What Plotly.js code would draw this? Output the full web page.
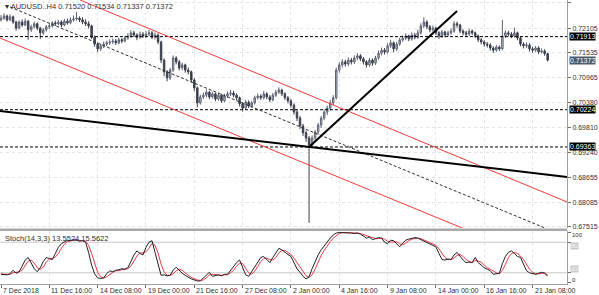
<!DOCTYPE html>
<html><head><meta charset="utf-8">
<script src="https://cdn.plot.ly/plotly-3.0.1.min.js"></script>
<style>html,body{margin:0;padding:0;background:#fff;}#chart{width:599px;height:295px;}</style>
</head><body><div id="chart"></div>
<script>
// ---- data ----
const symbolTitle = "\u25BE AUDUSD..H4 0.71520 0.71534 0.71337 0.71372";
const stochTitle = "Stoch(14,3,3) 13.5524 15.5622";
const firstOpen = 0.7230;
const closes = [0.7234,0.7239,0.7230,0.7237,0.7225,0.7211,0.7225,0.7218,0.7227,0.7207,
 0.7214,0.7221,0.7211,0.7200,0.7207,0.7214,0.7216,0.7223,0.7221,0.7225,
 0.7218,0.7227,0.7223,0.7230,0.7232,0.7234,0.7230,0.7225,0.7221,0.7216,
 0.7190,0.7174,0.7163,0.7170,0.7174,0.7177,0.7179,0.7181,0.7177,0.7184,
 0.7181,0.7188,0.7193,0.7200,0.7195,0.7190,0.7197,0.7193,0.7197,0.7200,
 0.7190,0.7195,0.7179,0.7137,0.7110,0.7096,0.7114,0.7142,0.7133,0.7119,
 0.7126,0.7114,0.7110,0.7091,0.7073,0.7038,0.7052,0.7056,0.7063,0.7052,
 0.7059,0.7047,0.7056,0.7043,0.7054,0.7059,0.7061,0.7056,0.7050,0.7036,
 0.7026,0.7040,0.7031,0.7038,0.7050,0.7054,0.7050,0.7059,0.7052,0.7045,
 0.7056,0.7063,0.7068,0.7059,0.7050,0.7043,0.7033,0.7017,0.7003,0.6985,
 0.6969,0.6957,0.6941,0.6957,0.6971,0.6987,0.7003,0.7017,0.7026,0.7038,
 0.7050,0.7114,0.7126,0.7133,0.7128,0.7137,0.7133,0.7142,0.7147,0.7140,
 0.7133,0.7126,0.7137,0.7130,0.7142,0.7153,0.7160,0.7156,0.7170,0.7177,
 0.7163,0.7174,0.7184,0.7188,0.7193,0.7186,0.7195,0.7190,0.7200,0.7216,
 0.7225,0.7214,0.7207,0.7211,0.7200,0.7193,0.7202,0.7195,0.7200,0.7204,
 0.7221,0.7218,0.7204,0.7200,0.7197,0.7204,0.7200,0.7193,0.7184,0.7179,
 0.7174,0.7172,0.7165,0.7160,0.7167,0.7163,0.7193,0.7200,0.7197,0.7193,
 0.7200,0.7188,0.7174,0.7170,0.7172,0.7163,0.7160,0.7165,0.7156,0.7158,
 0.7152,0.71372];
const highs = [0.7241,0.7245,0.7242,0.7243,0.7240,0.7228,0.7229,0.7231,0.7233,0.7229,
 0.7219,0.7226,0.7224,0.7214,0.7211,0.7218,0.7222,0.7227,0.7228,0.7230,
 0.7229,0.7232,0.7233,0.7236,0.7240,0.7248,0.7238,0.7236,0.7231,0.7227,
 0.7219,0.7194,0.7178,0.7175,0.7180,0.7182,0.7185,0.7187,0.7186,0.7189,
 0.7188,0.7193,0.7199,0.7206,0.7205,0.7199,0.7203,0.7202,0.7204,0.7207,
 0.7204,0.7201,0.7199,0.7182,0.7141,0.7114,0.7119,0.7148,0.7146,0.7137,
 0.7131,0.7129,0.7120,0.7113,0.7095,0.7076,0.7057,0.7062,0.7069,0.7066,
 0.7064,0.7062,0.7061,0.7059,0.7059,0.7065,0.7068,0.7066,0.7060,0.7053,
 0.7040,0.7045,0.7044,0.7043,0.7055,0.7060,0.7058,0.7066,0.7063,0.7056,
 0.7061,0.7068,0.7074,0.7071,0.7063,0.7054,0.7047,0.7037,0.7021,0.7008,
 0.6990,0.6974,0.6962,0.6963,0.6976,0.6992,0.7008,0.7023,0.7032,0.7045,
 0.7056,0.7120,0.7132,0.7139,0.7138,0.7143,0.7142,0.7148,0.7153,0.7151,
 0.7144,0.7137,0.7142,0.7141,0.7147,0.7159,0.7166,0.7165,0.7176,0.7184,
 0.7180,0.7179,0.7189,0.7194,0.7199,0.7196,0.7201,0.7200,0.7207,0.7222,
 0.7236,0.7229,0.7218,0.7217,0.7214,0.7204,0.7207,0.7205,0.7205,0.7210,
 0.7227,0.7226,0.7221,0.7208,0.7205,0.7209,0.7208,0.7203,0.7196,0.7188,
 0.7183,0.7179,0.7176,0.7169,0.7172,0.7171,0.7230,0.7206,0.7205,0.7202,
 0.7212,0.7203,0.7191,0.7178,0.7178,0.7176,0.7168,0.7170,0.7169,0.7164,
 0.7162,0.71534];
const lows = [0.7226,0.7230,0.7226,0.7227,0.7221,0.7205,0.7208,0.7214,0.7215,0.7184,
 0.7202,0.7210,0.7206,0.7186,0.7195,0.7203,0.7209,0.7212,0.7216,0.7217,
 0.7213,0.7215,0.7219,0.7220,0.7226,0.7228,0.7225,0.7220,0.7216,0.7210,
 0.7186,0.7168,0.7156,0.7158,0.7165,0.7169,0.7172,0.7174,0.7172,0.7173,
 0.7176,0.7178,0.7184,0.7189,0.7190,0.7183,0.7186,0.7188,0.7189,0.7192,
 0.7186,0.7185,0.7174,0.7130,0.7100,0.7088,0.7091,0.7110,0.7127,0.7113,
 0.7114,0.7108,0.7104,0.7085,0.7066,0.7028,0.7034,0.7047,0.7051,0.7047,
 0.7048,0.7042,0.7043,0.7038,0.7040,0.7050,0.7054,0.7051,0.7044,0.7030,
 0.7018,0.7022,0.7026,0.7027,0.7034,0.7046,0.7045,0.7046,0.7047,0.7040,
 0.7042,0.7052,0.7059,0.7054,0.7045,0.7037,0.7027,0.7011,0.6996,0.6978,
 0.6962,0.6948,0.6761,0.6936,0.6950,0.6965,0.6980,0.6998,0.7010,0.7020,
 0.7033,0.7046,0.7108,0.7120,0.7122,0.7123,0.7127,0.7128,0.7137,0.7135,
 0.7127,0.7120,0.7122,0.7124,0.7126,0.7138,0.7148,0.7150,0.7152,0.7165,
 0.7155,0.7158,0.7170,0.7179,0.7183,0.7181,0.7182,0.7185,0.7186,0.7196,
 0.7211,0.7209,0.7201,0.7203,0.7195,0.7186,0.7189,0.7190,0.7191,0.7196,
 0.7200,0.7212,0.7199,0.7194,0.7191,0.7193,0.7195,0.7188,0.7179,0.7173,
 0.7168,0.7166,0.7159,0.7154,0.7156,0.7158,0.7160,0.7188,0.7192,0.7188,
 0.7189,0.7183,0.7169,0.7164,0.7165,0.7157,0.7154,0.7156,0.7151,0.7152,
 0.7147,0.71337];
const stochK = [17,17,16,18,25,19,22,33,45,50, 40,28,22,30,42,50,48,46,58,70,
 77,81,84,83,85,84,82,83,80,60, 35,18,10,9,10,18,24,22,25,26,
 28,27,30,42,55,63,58,55,70,80, 83,60,35,15,16,14,15,25,31,24,
 19,15,11,8,6,4,4,10,16,21, 13,15,16,14,17,17,25,33,40,45,
 30,16,13,22,33,42,50,52,45,40, 50,60,68,65,60,56,52,40,28,21,
 13,8,12,28,42,55,65,73,82,88, 94,98,99,99,98,99,98,97,98,96,
 92,88,90,85,87,89,88,80,77,84, 83,76,71,78,84,86,87,89,88,85,
 82,79,77,73,71,58,46,45,47,46, 55,60,52,45,40,41,40,50,40,34,
 30,27,24,17,18,19,38,52,60,63, 58,52,50,36,24,20,18,17,19,21,
 19,13.5524];
const stochD = [18,17,17,17,20,21,22,25,33,43, 45,39,30,27,31,41,47,48,51,58,
 68,76,81,83,84,84,84,83,82,74, 58,38,21,12,10,12,17,21,24,24,
 26,27,28,33,42,53,59,59,61,68, 78,74,59,37,22,15,15,18,24,27,
 25,19,15,11,8,6,5,6,10,16, 17,16,15,15,16,16,20,25,33,39,
 38,30,20,17,23,32,42,48,49,46, 45,50,59,64,64,60,56,49,40,30,
 21,14,11,16,27,42,54,64,73,81, 88,93,97,99,99,99,98,98,98,97,
 95,92,90,88,87,87,88,86,82,80, 81,81,77,75,78,83,86,87,88,87,
 85,82,79,76,74,67,58,50,46,46, 49,54,56,52,46,42,40,44,43,41,
 35,30,27,23,20,18,25,36,50,58, 60,58,53,46,37,27,21,18,18,19,
 20,15.5622];
const xTickIdx = [0,16,32,48,64,80,96,112,128,144,160,176];
const xTickLabels = ["7 Dec 2018","11 Dec 16:00","14 Dec 08:00","19 Dec 00:00","21 Dec 16:00","27 Dec 08:00",
  "2 Jan 00:00","4 Jan 16:00","9 Jan 08:00","14 Jan 00:00","16 Jan 16:00","21 Jan 08:00"];
const yTickVals = [0.72690,0.72105,0.71535,0.70965,0.70380,0.69810,0.69240,0.68655,0.68085,0.67515];
const levelPrices = [0.71913,0.70224,0.69363];
const lastPrice = 0.71372;
const stochLevels = [80,20];
// trend objects: [barIndex, price] endpoints
const upperRed = [[26.2,0.72759],[187.4,0.68092]];
const lowerRed = [[-0.33,0.71881],[187.4,0.66496]];
const midDashed = [[3.0,0.72597],[180.1,0.67491]];
const supportBlack = [[-0.33,0.70195],[187.4,0.68670]];
const riseBlack = [[102.0,0.69363],[151.0,0.72505]];

// ---- build ----
const idx = closes.map((_, i) => i);
const opens = [firstOpen].concat(closes.slice(0, -1));
const XR = [-0.33, 187.4];
const traces = [];
function seg(pts, color, width, dash) {
  traces.push({type:'scatter', mode:'lines', x: pts.map(p=>p[0]), y: pts.map(p=>p[1]),
    line:{color:color, width:width, dash:dash||'solid'}, hoverinfo:'skip', xaxis:'x', yaxis:'y'});
}
levelPrices.forEach(p => seg([[XR[0],p],[XR[1],p]], '#000000', 1, '3px,2px'));
traces.push({type:'candlestick', x: idx, open: opens, high: highs, low: lows, close: closes,
  increasing:{line:{color:'#5c6372', width:1}, fillcolor:'#c4c8d0'},
  decreasing:{line:{color:'#3b404c', width:1}, fillcolor:'#3b404c'},
  whiskerwidth:0, xaxis:'x', yaxis:'y', hoverinfo:'skip'});
seg(upperRed, '#f03c3c', 1);
seg(lowerRed, '#f03c3c', 1);
seg(midDashed, '#303030', 1, '3px,2px');
seg(supportBlack, '#000000', 2);
seg(riseBlack, '#000000', 2);
stochLevels.forEach(v => traces.push({type:'scatter', mode:'lines', x: XR, y:[v,v], line:{color:'#c8c8c8', width:1}, xaxis:'x', yaxis:'y2', hoverinfo:'skip'}));
traces.push({type:'scatter', mode:'lines', x: idx, y: stochD, line:{color:'#e8384a', width:1}, xaxis:'x', yaxis:'y2', hoverinfo:'skip'});
traces.push({type:'scatter', mode:'lines', x: idx, y: stochK, line:{color:'#202020', width:1}, xaxis:'x', yaxis:'y2', hoverinfo:'skip'});

const FONT = 'Liberation Sans, Arial, sans-serif';
const annotations = [];
annotations.push({xref:'paper', yref:'paper', x:0, y:1, xanchor:'left', yanchor:'top', xshift:3, yshift:0,
  text: symbolTitle, showarrow:false, font:{family:FONT, size:7.5, color:'#303030'}});
annotations.push({xref:'paper', yref:'paper', x:0, y:0.1866, xanchor:'left', yanchor:'top', xshift:3, yshift:-1,
  text: stochTitle, showarrow:false, font:{family:FONT, size:7.5, color:'#303030'}});
xTickIdx.forEach((v, k) => annotations.push({xref:'x', yref:'paper', x:v, y:0, xanchor:'left', yanchor:'top', yshift:-1,
  text: xTickLabels[k], showarrow:false, font:{family:FONT, size:7, color:'#303030'}}));
levelPrices.forEach(p => annotations.push({xref:'paper', yref:'y', x:1, y:p, xanchor:'left', yanchor:'middle', xshift:2,
  text: p.toFixed(5), showarrow:false, bgcolor:'#000000', borderpad:0, font:{family:FONT, size:7, color:'#ffffff'}}));
annotations.push({xref:'paper', yref:'y', x:1, y:lastPrice, xanchor:'left', yanchor:'middle', xshift:2,
  text: lastPrice.toFixed(5), showarrow:false, bgcolor:'#4c5a6a', borderpad:0, font:{family:FONT, size:7, color:'#ffffff'}});
annotations.push({xref:'paper', yref:'y2', x:1, y:102, xanchor:'left', yanchor:'top', xshift:3, yshift:1,
  text:'100', showarrow:false, font:{family:FONT, size:6, color:'#303030'}});
annotations.push({xref:'paper', yref:'y2', x:1, y:-2, xanchor:'left', yanchor:'bottom', xshift:3, yshift:-1,
  text:'0', showarrow:false, font:{family:FONT, size:6, color:'#303030'}});
stochLevels.forEach((v, k) => annotations.push({xref:'paper', yref:'y2', x:1, y:v, xanchor:'left', yanchor:k===0?'top':'bottom', xshift:3,
  text:String(v), showarrow:false, bgcolor:'#c8c8c8', borderpad:0, font:{family:FONT, size:6, color:'#ffffff'}}));

const layout = {
  width:599, height:295, margin:{l:0, r:32, t:0, b:11, pad:0},
  paper_bgcolor:'#ffffff', plot_bgcolor:'#ffffff', showlegend:false,
  xaxis:{range:XR, anchor:'y2', tickvals:xTickIdx, showticklabels:false, ticks:'outside', ticklen:3, tickcolor:'#707070',
    showgrid:true, gridcolor:'#e4e4e4', griddash:'dot', zeroline:false, showline:true, linecolor:'#a0a0a0', linewidth:1,
    rangeslider:{visible:false}, fixedrange:true},
  yaxis:{domain:[0.1972,1], range:[0.67491,0.72759], side:'right', tickvals:yTickVals, ticktext:yTickVals.map(v=>v.toFixed(5)),
    ticks:'outside', ticklen:3, tickcolor:'#707070', tickfont:{family:FONT, size:7, color:'#303030'},
    showgrid:true, gridcolor:'#e4e4e4', griddash:'dot', zeroline:false, showline:true, linecolor:'#a0a0a0', linewidth:1, mirror:true},
  yaxis2:{domain:[0,0.1866], range:[-2,102], side:'right', showticklabels:false, tickvals:[0,20,80,100], ticks:'outside', ticklen:3,
    tickcolor:'#707070', showgrid:false, zeroline:false, showline:true, linecolor:'#a0a0a0', linewidth:1, mirror:true},
  shapes:[{type:'rect', xref:'paper', yref:'paper', x0:0, x1:1, y0:0.1866, y1:0.1955, fillcolor:'#a8a8a8', line:{width:0}}],
  annotations: annotations
};
Plotly.newPlot('chart', traces, layout, {staticPlot:true, displayModeBar:false});
</script></body></html>
